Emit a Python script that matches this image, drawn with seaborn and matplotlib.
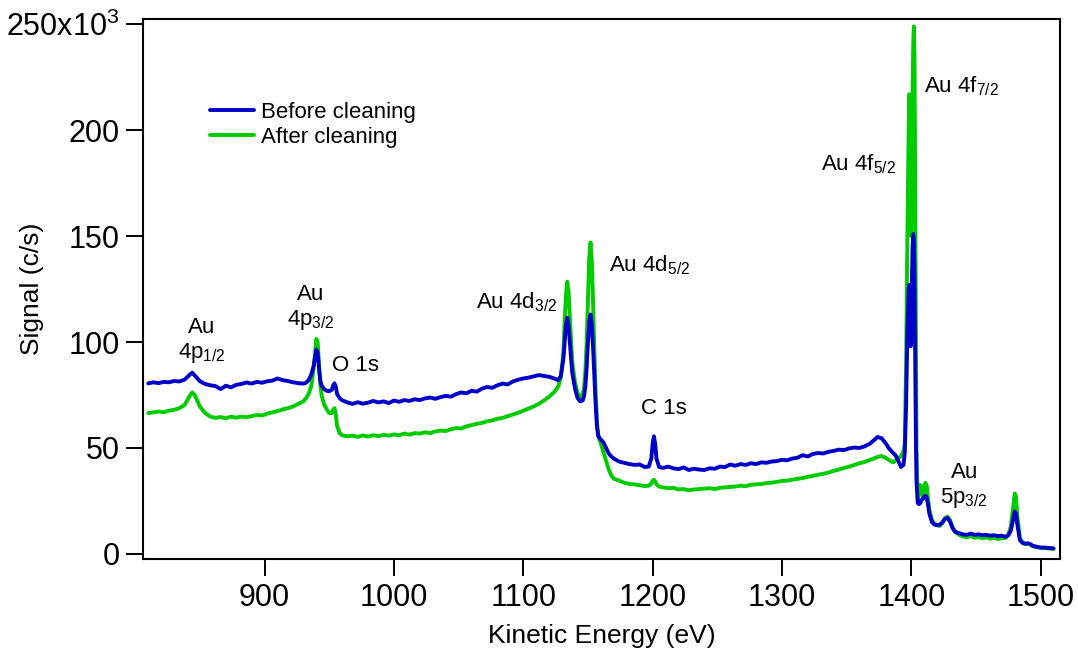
import numpy as np
import pandas as pd
import matplotlib
matplotlib.use('Agg')
import matplotlib.pyplot as plt
import seaborn as sns

# kinetic energy grid (eV) and signal in units of 10^3 c/s
energy = [
    810, 814, 818, 822, 826, 830, 834, 838, 842, 844, 846, 850, 854, 858, 862, 866,
    870, 874, 878, 882, 886, 890, 894, 898, 902, 906, 910, 914, 918, 922, 926, 930,
    932, 934, 936, 938, 939, 940, 941, 942, 943, 944, 946, 948, 950, 952, 953, 954,
    955, 956, 958, 960, 964, 968, 972, 976, 980, 984, 988, 992, 996, 1000, 1004, 1008,
    1012, 1016, 1020, 1024, 1028, 1032, 1036, 1040, 1044, 1048, 1052, 1056, 1060, 1064,
    1068, 1072, 1076, 1080, 1084, 1088, 1092, 1096, 1100, 1104, 1108, 1112, 1116, 1120,
    1124, 1127, 1129, 1131, 1132, 1133, 1134, 1135, 1136, 1137, 1138, 1140, 1142, 1144,
    1146, 1147, 1148, 1149, 1150, 1151, 1152, 1153, 1154, 1155, 1156, 1157, 1158, 1160,
    1162, 1164, 1166, 1168, 1170, 1174, 1178, 1182, 1186, 1190, 1194, 1197, 1199, 1200,
    1201, 1202, 1203, 1205, 1208, 1212, 1216, 1220, 1224, 1228, 1232, 1236, 1240, 1244,
    1248, 1252, 1256, 1260, 1264, 1268, 1272, 1276, 1280, 1284, 1288, 1292, 1296, 1300,
    1304, 1308, 1312, 1316, 1320, 1324, 1328, 1332, 1336, 1340, 1344, 1348, 1352, 1356,
    1360, 1364, 1368, 1371, 1374, 1377, 1380, 1383, 1386, 1388, 1390, 1392, 1394, 1395,
    1396, 1397, 1398, 1398.5, 1399, 1399.5, 1400, 1400.5, 1401, 1401.5, 1402, 1402.5,
    1403, 1403.5, 1404, 1405, 1406, 1407, 1408, 1409, 1410, 1411, 1412, 1413, 1414, 1416,
    1418, 1420, 1422, 1424, 1426, 1428, 1430, 1432, 1434, 1437, 1440, 1443, 1446, 1449,
    1452, 1455, 1458, 1461, 1464, 1467, 1470, 1473, 1475, 1477, 1479, 1480, 1481, 1482,
    1484, 1486, 1488, 1490, 1492, 1494, 1497, 1500, 1503, 1506, 1510,
]

before = [
    80.5, 81.0, 80.6, 81.2, 81.0, 81.6, 81.4, 82.2, 84.5, 85.5, 84.2, 81.5, 80.2, 79.6, 79.2, 77.8,
    79.4, 78.6, 79.8, 80.2, 80.9, 80.4, 81.2, 80.8, 81.5, 81.8, 82.8, 82.0, 81.6, 81.0, 80.6, 80.4,
    80.8, 82.0, 84.5, 89.0, 93.0, 96.5, 95.0, 88.0, 82.0, 79.5, 77.8, 77.0, 76.8, 77.5, 79.5, 80.5,
    79.0, 75.5, 73.5, 72.5, 71.5, 70.8, 71.6, 70.9, 71.4, 72.2, 71.5, 72.0, 71.2, 72.4, 71.8, 72.6,
    72.2, 73.0, 72.6, 73.4, 73.8, 73.2, 74.0, 74.6, 74.2, 75.4, 76.2, 75.8, 77.0, 76.6,
    78.0, 78.8, 78.4, 79.6, 80.4, 80.0, 81.4, 82.2, 82.8, 83.2, 83.8, 84.4, 84.0, 83.6,
    82.8, 82.0, 84.0, 92.0, 100.0, 108.0, 111.5, 108.0, 100.0, 92.0, 85.0, 78.0, 73.5, 72.0,
    72.5, 74.5, 79.0, 88.0, 100.0, 110.0, 113.0, 108.0, 97.0, 84.0, 70.0, 60.0, 55.5, 54.0,
    52.6, 50.0, 47.5, 46.0, 45.0, 43.6, 43.0, 42.4, 42.0, 42.2, 41.0, 41.2, 45.0, 52.0,
    55.5, 52.0, 45.0, 41.0, 40.6, 41.2, 40.4, 40.0, 40.8, 39.6, 40.2, 39.8, 39.6, 40.4,
    40.2, 41.2, 41.0, 42.2, 41.6, 42.4, 42.0, 42.8, 42.4, 43.2, 43.0, 43.6, 43.8, 44.4,
    44.2, 45.0, 45.4, 46.6, 46.0, 47.2, 47.6, 47.4, 48.2, 48.6, 49.2, 49.0, 49.8, 50.2,
    50.0, 50.8, 52.0, 53.6, 55.2, 54.6, 52.4, 49.6, 47.6, 46.4, 43.8, 41.0, 42.0, 48.0,
    70.0, 105.0, 125.0, 127.0, 120.0, 98.0, 105.0, 130.0, 145.0, 151.0, 148.0, 130.0,
    95.0, 60.0, 35.0, 24.0, 23.5, 24.0, 25.5, 26.0, 27.0, 27.5, 26.5, 23.0, 19.0, 15.0,
    13.8, 13.5, 13.8, 14.8, 16.4, 17.0, 15.2, 12.0, 10.4, 9.8, 9.2, 9.0, 9.6, 9.0,
    9.2, 8.8, 9.0, 8.6, 8.8, 8.4, 8.6, 8.0, 8.8, 11.0, 17.0, 20.0, 19.0, 14.0,
    6.5, 5.2, 4.8, 5.0, 4.6, 3.8, 3.4, 3.0, 3.0, 2.8, 2.6,
]

after = [
    66.5, 66.8, 67.2, 66.9, 67.6, 68.0, 68.8, 70.2, 74.5, 76.2, 75.0, 69.5, 66.5, 64.8, 64.2, 64.6,
    64.0, 64.8, 64.3, 64.8, 64.5, 65.0, 65.6, 65.3, 66.2, 66.8, 67.4, 68.2, 68.8, 69.6, 70.8, 72.0,
    73.5, 75.5, 79.0, 88.0, 95.0, 101.5, 100.0, 90.0, 80.5, 75.0, 70.5, 68.2, 66.5, 66.5, 68.0, 68.8,
    66.0, 60.5, 57.0, 56.0, 55.5, 55.8, 55.2, 55.9, 55.4, 56.0, 55.6, 56.2, 55.8, 56.4, 56.0, 56.8,
    56.3, 57.0, 56.8, 57.4, 57.0, 57.8, 58.2, 58.0, 58.8, 59.4, 59.2, 60.2, 60.8, 61.4,
    61.8, 62.6, 63.0, 63.8, 64.2, 65.0, 65.8, 66.6, 67.6, 68.6, 69.6, 70.8, 72.4, 74.2,
    76.4, 79.0, 83.0, 95.0, 110.0, 122.0, 128.5, 124.0, 112.0, 100.0, 90.0, 81.0, 76.0, 74.0,
    75.5, 78.5, 86.0, 100.0, 120.0, 140.0, 147.0, 138.0, 118.0, 95.0, 75.0, 62.0, 56.0, 52.0,
    48.0, 44.0, 40.0, 37.0, 35.5, 34.6, 33.6, 33.0, 32.8, 32.4, 32.0, 32.2, 33.2, 34.5,
    35.0, 34.2, 32.8, 31.8, 31.4, 31.0, 31.2, 30.4, 30.6, 30.0, 30.4, 30.6, 30.8, 31.0,
    30.6, 31.2, 31.4, 31.6, 31.8, 32.2, 32.0, 32.6, 32.8, 33.0, 33.4, 33.6, 34.0, 34.4,
    34.6, 35.0, 35.4, 35.8, 36.4, 36.8, 37.4, 37.8, 38.4, 39.2, 39.8, 40.6, 41.2, 42.0,
    42.8, 43.4, 44.4, 45.0, 45.8, 46.2, 45.4, 44.2, 43.2, 44.2, 45.2, 46.0, 48.5, 52.0,
    90.0, 150.0, 200.0, 217.0, 190.0, 160.0, 150.0, 175.0, 215.0, 240.0, 249.0, 235.0,
    180.0, 110.0, 50.0, 26.0, 28.0, 32.5, 30.0, 27.0, 32.0, 33.5, 32.0, 26.0, 21.0, 16.0,
    14.2, 13.6, 13.2, 14.6, 16.8, 17.6, 16.0, 12.6, 10.4, 9.0, 8.2, 7.8, 8.4, 7.6,
    8.0, 7.4, 7.8, 7.2, 7.6, 7.0, 7.4, 7.6, 9.0, 13.0, 23.0, 28.5, 27.0, 18.0,
    7.5, 5.4, 4.6, 4.8, 4.4, 3.6, 3.2, 2.8, 2.7, 2.6, 2.4,
]

y_ticks = [0, 50, 100, 150, 200, 250]
y_tick_labels = ['0', '50', '100', '150', '200', '250x10$^{3}$']
x_ticks = [900, 1000, 1100, 1200, 1300, 1400, 1500]

peak_labels = [
    ('Au\n4p$_{1/2}$', 851.5, 100.5),
    ('Au\n4p$_{3/2}$', 935.5, 116),
    ('O 1s', 970.5, 89),
    ('Au 4d$_{3/2}$', 1095, 119),
    ('Au 4d$_{5/2}$', 1198, 136.5),
    ('C 1s', 1208.5, 68.5),
    ('Au 4f$_{5/2}$', 1359.5, 184),
    ('Au 4f$_{7/2}$', 1439, 221),
    ('Au\n5p$_{3/2}$', 1441, 32),
]

sns.set_style('ticks')
plt.rcParams['font.family'] = ['Liberation Sans', 'DejaVu Sans']
plt.rcParams['mathtext.fontset'] = 'custom'
plt.rcParams['mathtext.rm'] = 'Liberation Sans'
plt.rcParams['mathtext.it'] = 'Liberation Sans'
plt.rcParams['mathtext.default'] = 'regular'
plt.rcParams['text.color'] = 'black'
plt.rcParams['axes.labelcolor'] = 'black'

df = pd.DataFrame({'energy': energy, 'before': before, 'after': after})

fig = plt.figure(figsize=(10.78, 6.58), dpi=100)
ax = fig.add_axes([0.1327, 0.1505, 0.8506, 0.8206])

sns.lineplot(data=df, x='energy', y='after', color='#00cc00', lw=2.8, ax=ax,
             label='After cleaning', sort=False)
sns.lineplot(data=df, x='energy', y='before', color='#0000c8', lw=2.8, ax=ax,
             label='Before cleaning', sort=False)

ax.set_xlim(806, 1515)
ax.set_ylim(-2.4, 252.5)
ax.set_xticks(x_ticks)
ax.set_yticks(y_ticks)
ax.set_yticklabels(y_tick_labels)
ax.tick_params(direction='out', length=12, width=1.4, labelsize=22, colors='black', pad=5)
for side in ['left', 'right', 'top', 'bottom']:
    ax.spines[side].set_visible(True)
    ax.spines[side].set_linewidth(1.5)
    ax.spines[side].set_color('black')

ax.set_xlabel('Kinetic Energy (eV)', fontsize=19)
ax.set_ylabel('Signal (c/s)', fontsize=19)
ax.xaxis.set_label_coords(0.5, -0.12)
ax.yaxis.set_label_coords(-0.108, 0.5)

for txt, xv, yv in peak_labels:
    ax.text(xv, yv, txt, fontsize=16, ha='center', va='center', multialignment='center')

handles, labels = ax.get_legend_handles_labels()
ax.legend(handles[::-1], labels[::-1], loc='upper left', bbox_to_anchor=(0.073, 0.847),
          frameon=False, fontsize=16, handlelength=2.0, handletextpad=0.3,
          labelspacing=0.2, borderpad=0, borderaxespad=0)

fig.savefig('out.png', dpi=100)
